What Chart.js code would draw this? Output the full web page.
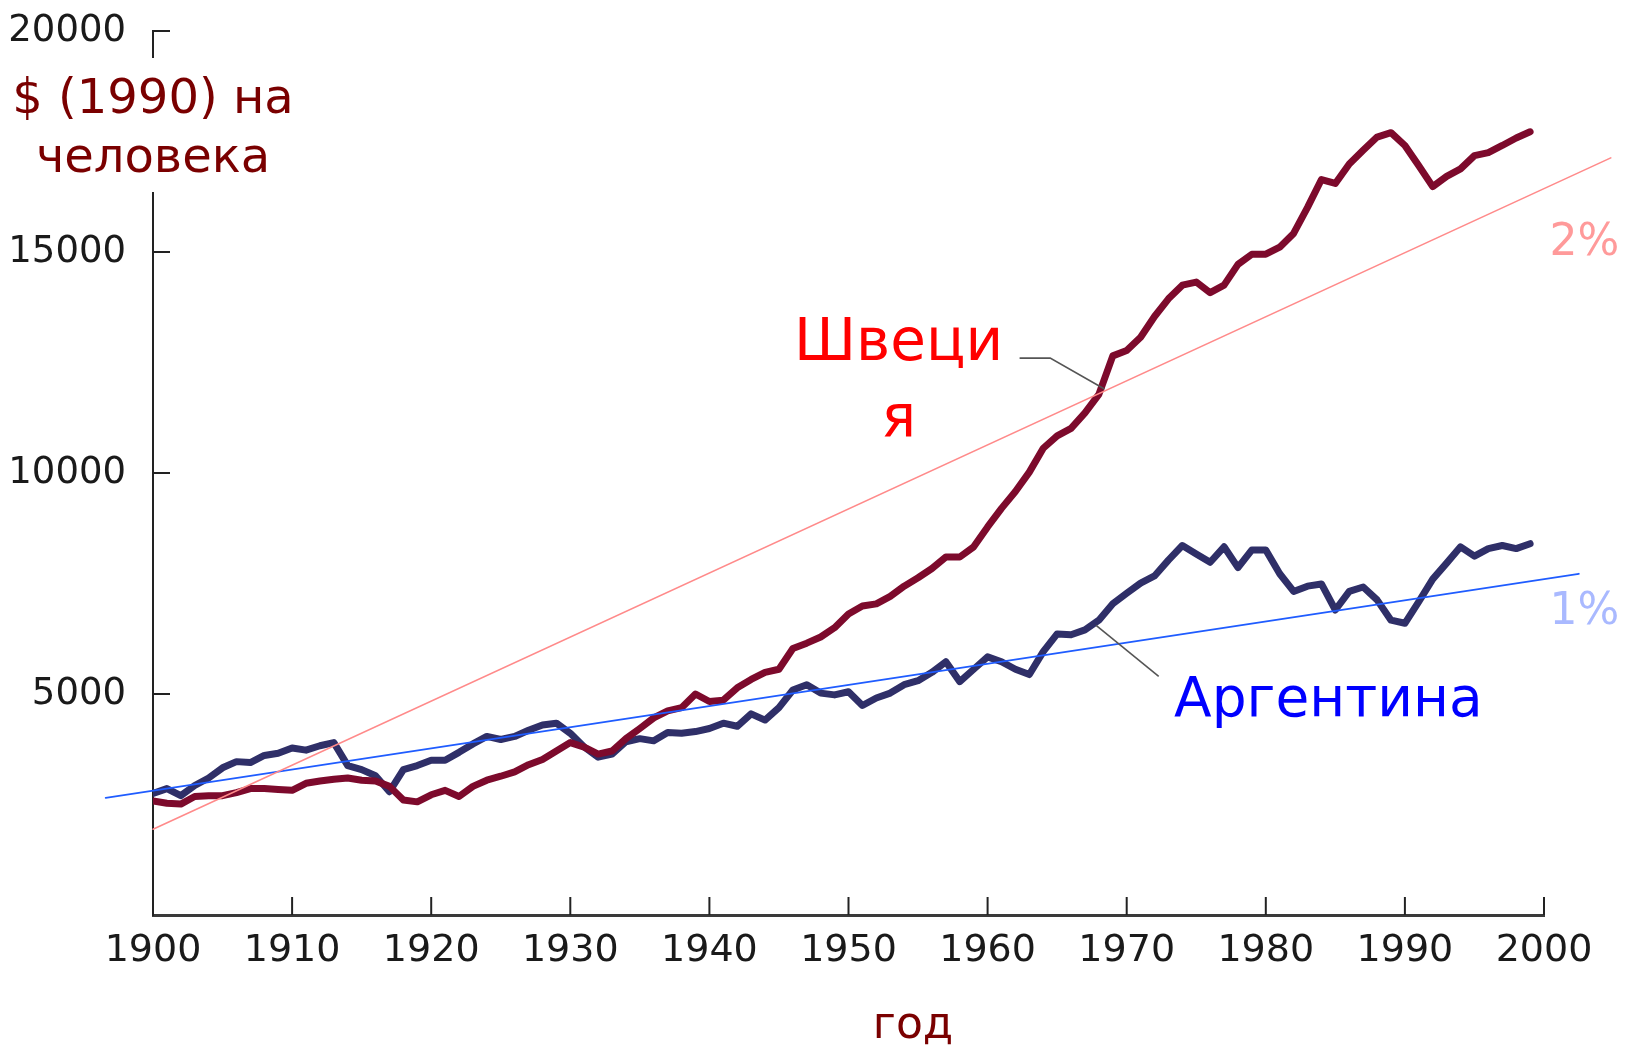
<!DOCTYPE html>
<html>
<head>
<meta charset="utf-8">
<script src="https://cdn.jsdelivr.net/npm/chart.js@4.4.1/dist/chart.umd.min.js"></script>
<style>
html, body { margin: 0; padding: 0; background: #fff; }
#wrap { width: 1627px; height: 1050px; }
</style>
</head>
<body>
<div id="wrap"><canvas id="myChart" width="1627" height="1050"></canvas></div>
<script>
var years = [1900, 1901, 1902, 1903, 1904, 1905, 1906, 1907, 1908, 1909,
    1910, 1911, 1912, 1913, 1914, 1915, 1916, 1917, 1918, 1919,
    1920, 1921, 1922, 1923, 1924, 1925, 1926, 1927, 1928, 1929,
    1930, 1931, 1932, 1933, 1934, 1935, 1936, 1937, 1938, 1939,
    1940, 1941, 1942, 1943, 1944, 1945, 1946, 1947, 1948, 1949,
    1950, 1951, 1952, 1953, 1954, 1955, 1956, 1957, 1958, 1959,
    1960, 1961, 1962, 1963, 1964, 1965, 1966, 1967, 1968, 1969,
    1970, 1971, 1972, 1973, 1974, 1975, 1976, 1977, 1978, 1979,
    1980, 1981, 1982, 1983, 1984, 1985, 1986, 1987, 1988, 1989,
    1990, 1991, 1992, 1993, 1994, 1995, 1996, 1997, 1998, 1999];

var sweden = [2580, 2530, 2510, 2680, 2700, 2700, 2770, 2860, 2860, 2840,
    2820, 2980, 3030, 3070, 3100, 3050, 3030, 2910, 2600, 2560,
    2720, 2820, 2680, 2910, 3050, 3140, 3240, 3400, 3520, 3710,
    3900, 3800, 3640, 3710, 3990, 4220, 4460, 4620, 4690, 5000,
    4830, 4860, 5140, 5330, 5490, 5560, 6030, 6150, 6290, 6500,
    6810, 6990, 7040, 7210, 7440, 7630, 7840, 8100, 8100, 8330,
    8780, 9200, 9580, 10020, 10560, 10840, 11010, 11360, 11780, 12650,
    12770, 13070, 13540, 13940, 14250, 14320, 14080, 14250, 14720, 14950,
    14950, 15110, 15420, 16010, 16640, 16550, 16990, 17300, 17600, 17700,
    17410, 16950, 16480, 16710, 16880, 17180, 17250, 17410, 17580, 17720];

var argentina = [2750, 2860, 2700, 2930, 3100, 3330, 3470, 3450, 3610, 3660,
    3780, 3730, 3830, 3900, 3380, 3290, 3150, 2790, 3290, 3380,
    3500, 3500, 3680, 3870, 4040, 3970, 4040, 4180, 4300, 4340,
    4110, 3800, 3570, 3640, 3920, 3990, 3940, 4130, 4110, 4150,
    4220, 4340, 4270, 4550, 4410, 4690, 5090, 5210, 5020, 4980,
    5050, 4740, 4910, 5020, 5210, 5300, 5490, 5730, 5280, 5560,
    5840, 5730, 5560, 5440, 5960, 6360, 6340, 6450, 6670, 7040,
    7280, 7510, 7670, 8030, 8360, 8170, 7980, 8330, 7860, 8260,
    8260, 7720, 7320, 7440, 7490, 6900, 7320, 7420, 7130, 6670,
    6600, 7090, 7600, 7960, 8330, 8120, 8290, 8360, 8290, 8400];

// straight guide lines: 2% and 1% growth
var trend2Years = [1900, 2004.8];
var trend2Values = [1940, 17130];
var trend1Years = [1896.6, 2002.5];
var trend1Values = [2650, 7720];

var xTickValues = [1900, 1910, 1920, 1930, 1940, 1950, 1960, 1970, 1980, 1990, 2000];
var yTickValues = [0, 5000, 10000, 15000, 20000];

function toPoints(xs, ys) {
    var out = [];
    for (var i = 0; i < xs.length; i++) {
        out.push({x: xs[i], y: ys[i]});
    }
    return out;
}

var FONT = '"DejaVu Sans", Verdana, sans-serif';

var decorPlugin = {
    id: 'decor',
    afterDraw: function(chart) {
        var ctx = chart.ctx;
        var xs = chart.scales.x, ys = chart.scales.y;
        var left = xs.getPixelForValue(1900), bottom = ys.getPixelForValue(0);

        function seg(x1, y1, x2, y2) {
            ctx.beginPath();
            ctx.moveTo(x1, y1);
            ctx.lineTo(x2, y2);
            ctx.stroke();
        }
        function px(yr) { return xs.getPixelForValue(yr); }
        function py(v) { return ys.getPixelForValue(v); }

        ctx.save();
        /*tick marks point into the plot*/
        ctx.strokeStyle = '#222';
        ctx.lineWidth = 2;
        xTickValues.forEach(function(v) {
            if (v > 1900) seg(px(v), bottom, px(v), bottom - 18);
        });
        yTickValues.forEach(function(v) {
            if (v > 0) seg(left, py(v), left + 17, py(v));
        });

        // y title sits over the axis on a white patch
        ctx.fillStyle = '#fff';
        ctx.fillRect(8, 58, 300, 134);
        ctx.fillStyle = '#7a0000';
        ctx.font = '48px ' + FONT;
        ctx.textAlign = 'center';
        ctx.textBaseline = 'middle';
        ctx.fillText('$ (1990) на', left, 101);
        ctx.fillText('человека', left, 160);

        ctx.font = '44px ' + FONT;
        ctx.fillText('год', 913, 1027);

        // series names
        ctx.fillStyle = '#ff0000';
        ctx.font = '58px ' + FONT;
        ctx.fillText('Швеци', px(1953.6), py(12890));
        ctx.fillText('я', px(1953.6), py(11150));
        ctx.fillStyle = '#0000ff';
        ctx.font = '55px ' + FONT;
        ctx.fillText('Аргентина', px(1984.5), py(4820));

        ctx.font = '44px ' + FONT;
        ctx.fillStyle = '#ff9a9a';
        ctx.fillText('2%', px(2002.9), py(15190));
        ctx.fillStyle = '#a9b9ff';
        ctx.fillText('1%', px(2002.9), py(6850));

        // leader lines
        ctx.strokeStyle = '#555';
        ctx.lineWidth = 1.6;
        ctx.beginPath();
        ctx.moveTo(px(1962.3), py(12600));
        ctx.lineTo(px(1964.5), py(12600));
        ctx.lineTo(px(1968.4), py(11900));
        ctx.stroke();
        seg(px(1967.8), py(6550), px(1972.3), py(5400));
        ctx.restore();
    }
};

new Chart('myChart', {
    type: 'line',
    data: {
        datasets: [{
            label: '2%',
            data: toPoints(trend2Years, trend2Values),
            borderColor: '#ff8a8a',
            borderWidth: 1.6,
            clip: false,
            order: 0
        }, {
            label: '1%',
            data: toPoints(trend1Years, trend1Values),
            borderColor: '#1f5cff',
            borderWidth: 1.8,
            clip: false,
            order: 0
        }, {
            label: 'Швеция',
            data: toPoints(years, sweden),
            borderColor: '#7d0a2c',
            borderWidth: 7,
            order: 1
        }, {
            label: 'Аргентина',
            data: toPoints(years, argentina),
            borderColor: '#2f2f68',
            borderWidth: 7,
            order: 2
        }]
    },
    options: {
        responsive: false,
        animation: false,
        elements: {
            point: {radius: 0},
            line: {tension: 0, borderJoinStyle: 'round', borderCapStyle: 'round'}
        },
        layout: {padding: {top: 31, right: 83, left: 0, bottom: 0}},
        plugins: {
            legend: {display: false},
            tooltip: {enabled: false}
        },
        scales: {
            x: {
                type: 'linear',
                min: 1900,
                max: 2000,
                afterFit: function(s) {
                    s.height = 135;
                    s.paddingLeft = 0;
                    s.paddingRight = 0;
                },
                afterBuildTicks: function(s) {
                    s.ticks = xTickValues.map(function(v) { return {value: v}; });
                },
                ticks: {
                    color: '#1a1a1a',
                    font: {family: FONT, size: 38},
                    padding: 13,
                    maxRotation: 0,
                    callback: function(v) { return String(v); }
                },
                grid: {drawOnChartArea: false, drawTicks: false},
                border: {display: true, color: '#3a3a3a', width: 3}
            },
            y: {
                min: 0,
                max: 20000,
                afterFit: function(s) {
                    s.width = 153;
                    s.paddingTop = 0;
                    s.paddingBottom = 0;
                },
                afterBuildTicks: function(s) {
                    s.ticks = yTickValues.map(function(v) { return {value: v}; });
                },
                ticks: {
                    color: '#1a1a1a',
                    font: {family: FONT, size: 37},
                    padding: 27,
                    callback: function(v) { return v === 0 ? '' : String(v); }
                },
                grid: {drawOnChartArea: false, drawTicks: false},
                border: {display: true, color: '#222', width: 2}
            }
        }
    },
    plugins: [decorPlugin]
});
</script>
</body>
</html>
